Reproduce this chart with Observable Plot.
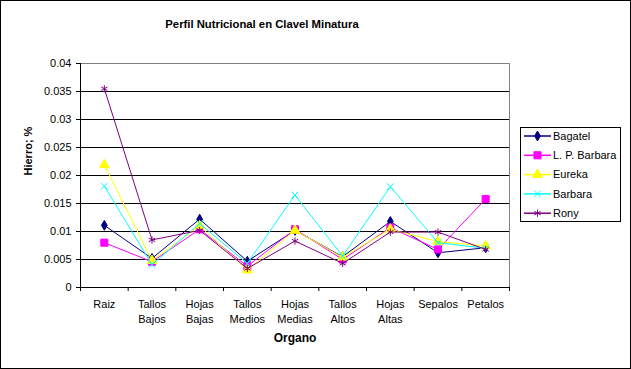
<!DOCTYPE html>
<html>
<head>
<meta charset="utf-8">
<script src="https://cdn.jsdelivr.net/npm/d3@7"></script>
<script src="https://cdn.jsdelivr.net/npm/@observablehq/plot@0.6"></script>
<style>
  html, body { margin: 0; padding: 0; background: white; }
  #chart { width: 631px; height: 369px; }
</style>
</head>
<body>
<div id="chart"></div>
<script>
const title = "Perfil Nutricional en Clavel Minatura";
const xLabel = "Organo";
const yLabel = "Hierro; %";
const categories = ["Raiz", "Tallos Bajos", "Hojas Bajas", "Tallos Medios", "Hojas Medias", "Tallos Altos", "Hojas Altas", "Sepalos", "Petalos"];
const seriesNames = ["Bagatel", "L. P. Barbara", "Eureka", "Barbara", "Rony"];
const bagatel   = [0.0111, 0.0052, 0.0122, 0.0047, 0.0102, 0.0055, 0.0118, 0.0062, 0.0071];
const lpBarbara = [0.0080, 0.0046, 0.0104, 0.0038, 0.0104, 0.0050, 0.0107, 0.0068, 0.0158];
const eureka    = [0.0219, 0.0048, 0.0110, 0.0031, 0.0102, 0.0054, 0.0104, 0.0082, 0.0074];
const barbara   = [0.0181, 0.0041, 0.0114, 0.0043, 0.0165, 0.0056, 0.0180, 0.0080, 0.0070];
const rony      = [0.0355, 0.0085, 0.0102, 0.0034, 0.0083, 0.0043, 0.0099, 0.0099, 0.0068];
const yTicks = [0, 0.005, 0.01, 0.015, 0.02, 0.025, 0.03, 0.035, 0.04];

const seriesValues = [bagatel, lpBarbara, eureka, barbara, rony];
const colors = ["#000080", "#FF00FF", "#FFFF00", "#00FFFF", "#800080"];
const symbols = ["diamond", "square", "triangle", "times", "asterisk"];
const filled = [true, true, true, false, false];
const radii = [3.0, 4, 3.6, 3.2, 3.4];
const d3Symbols = {diamond: d3.symbolDiamond, square: d3.symbolSquare, triangle: d3.symbolTriangle, times: d3.symbolTimes, asterisk: d3.symbolAsterisk};

const font = "Arial, 'Liberation Sans', sans-serif";

const seriesMarks = seriesNames.flatMap((name, k) => {
  const rows = categories.map((c, i) => ({series: name, i, value: seriesValues[k][i]}));
  return [
    Plot.line(rows, {x: "i", y: "value", stroke: colors[k], strokeWidth: 1}),
    Plot.dot(rows, {x: "i", y: "value", symbol: symbols[k], r: radii[k],
      fill: filled[k] ? colors[k] : "none", stroke: colors[k], strokeWidth: 1})
  ];
});

const chart = Plot.plot({
  width: 631,
  height: 369,
  marginLeft: 80,
  marginRight: 122,
  marginTop: 63,
  marginBottom: 82,
  style: {fontFamily: font, fontSize: "11px", background: "white", color: "black"},
  x: {type: "linear", domain: [-0.5, categories.length - 0.5]},
  y: {domain: [0, 0.04]},
  marks: [
    Plot.frame({stroke: "#808080"}),
    Plot.ruleY(yTicks.slice(1, -1), {stroke: "black", strokeWidth: 1}),
    Plot.axisY({ticks: yTicks, tickFormat: d3.format("~g"), tickSize: 4, tickPadding: 5, label: null}),
    Plot.axisX({ticks: d3.range(-0.5, categories.length, 1), tickFormat: () => "", tickSize: 4, label: null}),
    Plot.ruleX([-0.5], {stroke: "black"}),
    Plot.ruleY([0], {stroke: "black"}),
    Plot.text(categories, {x: (d, i) => i, frameAnchor: "bottom", text: d => d.replace(" ", "\n"),
      lineAnchor: "top", dy: 10, lineHeight: 1.35, fontSize: 11}),
    Plot.text([xLabel], {frameAnchor: "bottom", dy: 54, fontWeight: "bold", fontSize: 12}),
    Plot.text([yLabel], {frameAnchor: "left", dx: -52, rotate: -90, fontWeight: "bold", fontSize: 11}),
    ...seriesMarks
  ]
});

const svg = d3.select(chart);
// title
svg.append("text").attr("x", 262).attr("y", 28).attr("text-anchor", "middle")
  .attr("font-family", font).attr("font-size", 11.3).attr("font-weight", "bold").attr("fill", "black")
  .text(title);
// legend
const lg = svg.append("g").attr("font-family", font).attr("font-size", 11).attr("text-anchor", "start");
lg.append("rect").attr("x", 520.5).attr("y", 127.5).attr("width", 100).attr("height", 94)
  .attr("fill", "white").attr("stroke", "black");
seriesNames.forEach((name, k) => {
  const cy = 136 + k * 19.3;
  lg.append("line").attr("x1", 524).attr("x2", 551).attr("y1", cy).attr("y2", cy)
    .attr("stroke", colors[k]).attr("stroke-width", 1.5);
  lg.append("path").attr("transform", `translate(537.5,${cy})`)
    .attr("d", d3.symbol(d3Symbols[symbols[k]], Math.PI * radii[k] * radii[k])())
    .attr("fill", filled[k] ? colors[k] : "none").attr("stroke", colors[k]).attr("stroke-width", 1);
  lg.append("text").attr("x", 553).attr("y", cy).attr("dy", "0.35em").attr("text-anchor", "start")
    .attr("fill", "black").text(name);
});
// outer border
svg.append("rect").attr("x", 0.5).attr("y", 0.5).attr("width", 630).attr("height", 368)
  .attr("fill", "none").attr("stroke", "black");

document.getElementById("chart").appendChild(chart);
</script>
</body>
</html>
